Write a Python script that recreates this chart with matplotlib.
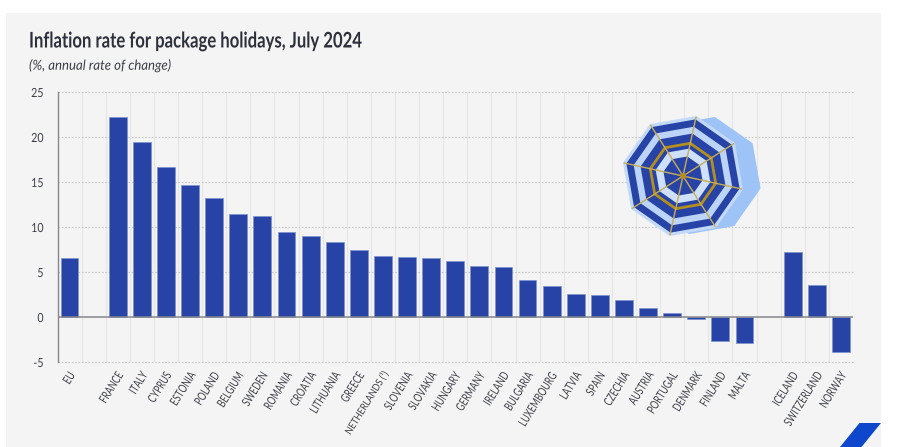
import numpy as np
import matplotlib

matplotlib.use("Agg")
from matplotlib import patheffects
from matplotlib import pyplot as plt
from matplotlib.patches import Circle, Polygon, Rectangle
from matplotlib.transforms import Affine2D, ScaledTranslation

plt.rcParams["font.family"] = ["Lato", "DejaVu Sans"]
plt.rcParams["axes.unicode_minus"] = False

W, H = 908, 447
BLUE = "#2743a6"
TEXT = "#3c3f46"

eu_label = ["EU"]
eu_value = [6.6]
member_labels = [
    "FRANCE", "ITALY", "CYPRUS", "ESTONIA", "POLAND", "BELGIUM", "SWEDEN", "ROMANIA", "CROATIA",
    "LITHUANIA", "GREECE", "NETHERLANDS (¹)", "SLOVENIA", "SLOVAKIA", "HUNGARY", "GERMANY", "IRELAND",
    "BULGARIA", "LUXEMBOURG", "LATVIA", "SPAIN", "CZECHIA", "AUSTRIA", "PORTUGAL", "DENMARK", "FINLAND", "MALTA",
]
member_values = [
    22.2, 19.5, 16.7, 14.7, 13.2, 11.5, 11.2, 9.4, 9.0,
    8.3, 7.5, 6.8, 6.7, 6.6, 6.2, 5.7, 5.6,
    4.1, 3.5, 2.6, 2.4, 1.9, 1.0, 0.4, -0.2, -2.7, -2.9,
]
efta_labels = ["ICELAND", "SWITZERLAND", "NORWAY"]
efta_values = [7.2, 3.6, -3.9]
y_ticks = [-5, 0, 5, 10, 15, 20, 25]


class Squeeze(patheffects.AbstractPathEffect):
    """Narrow the glyphs along the baseline, no condensed face is installed."""

    def __init__(self, factor, pivot="left"):
        super().__init__()
        self.factor = factor
        self.pivot = pivot

    def draw_path(self, renderer, gc, tpath, affine, rgbFace=None):
        xs = tpath.vertices[:, 0]
        x0 = xs.max() if self.pivot == "right" else 0.0
        squeeze = Affine2D().translate(-x0, 0).scale(self.factor, 1).translate(x0, 0)
        renderer.draw_path(gc, tpath, squeeze + affine, rgbFace)


def octagon(cx, cy, radius, rot_deg=12.5):
    angles = np.radians(rot_deg + 45 * np.arange(8))
    return np.column_stack([cx + radius * np.sin(angles), cy - radius * np.cos(angles)])


def draw_umbrella(fig, to_px):
    cx, cy = 683, 176
    fig.add_artist(Polygon(octagon(cx + 19, cy - 0.5, 60), closed=True, fc="#9dc3f7", ec="none",
                           transform=to_px, zorder=5))
    rings = [
        (61.5, "#c3d9f8"), (58, BLUE), (50.5, "#bcd4f8"), (43.5, BLUE),
        (35, "#b58f1d"), (32, BLUE), (28, "#cfe0fa"), (20, BLUE),
    ]
    for radius, colour in rings:
        fig.add_artist(Polygon(octagon(cx, cy, radius), closed=True, fc=colour, ec="none",
                               transform=to_px, zorder=6))
    for x, y in octagon(cx, cy, 60):
        fig.add_artist(plt.Line2D([cx, x], [cy, y], color="#c9ad55", lw=1.0, transform=to_px, zorder=7))
    fig.add_artist(Circle((cx, cy), 3, fc="#b58f1d", ec="none", transform=to_px, zorder=8))


def main():
    fig = plt.figure(figsize=(W / 100, H / 100), dpi=100, facecolor="white")
    # pixel coords of the picture, y measured from the top
    to_px = Affine2D().scale(1, -1).translate(0, H)
    fig.add_artist(Rectangle((6, 13), 875, 434, fc="#f4f4f4", ec="none", transform=to_px, zorder=-5))
    fig.add_artist(Polygon([(859.5, 423), (881, 423), (861.5, 447), (840, 447)], closed=True,
                           fc="#0e47cb", ec="none", transform=to_px, zorder=1))

    left, right, top, bottom = 57.5, 853, 92, 362
    ax = fig.add_axes([left / W, 1 - bottom / H, (right - left) / W, (bottom - top) / H])
    ax.patch.set_alpha(0)

    labels = eu_label + [""] + member_labels + [""] + efta_labels
    values = eu_value + [np.nan] + member_values + [np.nan] + efta_values
    xs = np.arange(len(labels))
    ax.bar(xs, values, width=0.74, color=BLUE, edgecolor="#7f93cf", linewidth=0.5, zorder=3)

    ax.set_xlim(-0.5, len(labels) - 0.5)
    ax.set_ylim(-5, 25)
    ax.set_yticks(y_ticks)
    ax.set_xticks(xs)
    ax.set_xticklabels(labels, rotation=58, ha="right", va="center", rotation_mode="anchor",
                       fontsize=8.8, color=TEXT)
    ax.tick_params(axis="x", length=0, pad=8)
    ax.tick_params(axis="y", length=0, pad=10, labelsize=9, labelcolor=TEXT)
    shift = ScaledTranslation(3 / 100, 0, fig.dpi_scale_trans)
    for label in ax.get_xticklabels():
        label.set_transform(label.get_transform() + shift)
        if label.get_text().startswith("NETHERLANDS"):
            # longest label, a bit smaller so it stays inside the picture
            label.set_fontsize(7.4)
            label.set_path_effects([Squeeze(0.85, "right")])
        else:
            label.set_path_effects([Squeeze(0.72, "right")])
    for label in ax.get_yticklabels():
        label.set_path_effects([Squeeze(0.85, "right")])

    for x in xs + 0.5:
        ax.axvline(x, color="#e6e6e6", lw=0.9, zorder=1)
    for y in y_ticks:
        if y != 0:
            ax.axhline(y, color="#c8c8c8", lw=0.8, ls=(0, (1.5, 1.5)), zorder=1, clip_on=False)
    ax.axhline(0, color="#85878b", lw=1.1, zorder=4)

    for side in ["top", "right", "bottom"]:
        ax.spines[side].set_visible(False)
    ax.spines["left"].set_color("#85878b")
    ax.spines["left"].set_linewidth(1.0)

    title = fig.text(29 / W, 1 - 41 / H, "Inflation rate for package holidays, July 2024", fontsize=15.5,
                     fontweight="bold", color="#2c303a", va="center", ha="left")
    title.set_path_effects([Squeeze(0.775)])
    subtitle = fig.text(29 / W, 1 - 65.5 / H, "(%, annual rate of change)", fontsize=10, style="italic",
                        color=TEXT, va="center", ha="left")
    subtitle.set_path_effects([Squeeze(0.95)])

    draw_umbrella(fig, to_px)
    fig.savefig("out.png", dpi=100)


if __name__ == "__main__":
    main()
